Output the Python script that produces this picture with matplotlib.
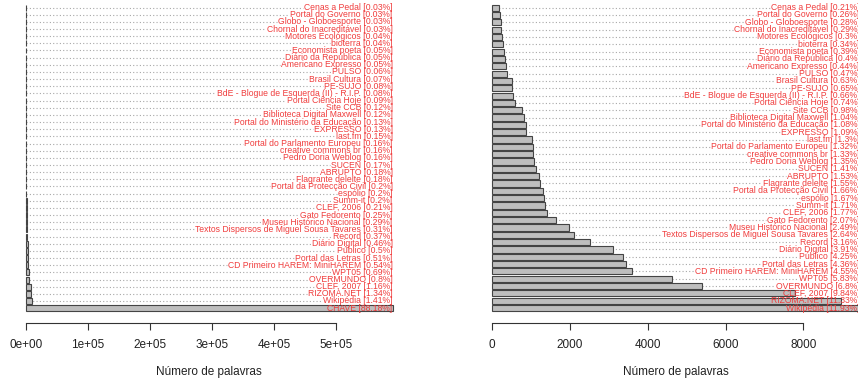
# -*- coding: utf-8 -*-

import numpy as np
import matplotlib
matplotlib.use('Agg')
from matplotlib import pyplot as plt
from matplotlib.ticker import FuncFormatter

plt.rcParams['font.family'] = ['Liberation Sans', 'DejaVu Sans']

# fontes do corpus, da mais pequena para a maior
fontes = [
    'Cenas a Pedal', 'Portal do Governo', 'Globo - Globoesporte',
    'Chornal do Inacreditável', 'Motores Ecológicos', 'bioterra',
    'Economista poeta', 'Diário da República', 'Americano Expresso',
    'PULSO', 'Brasil Cultura', 'PE-SUJO',
    'BdE - Blogue de Esquerda (II) - R.I.P.', 'Portal Ciência Hoje',
    'Site CCB', 'Biblioteca Digital Maxwell',
    'Portal do Ministério da Educação', 'EXPRESSO', 'last.fm',
    'Portal do Parlamento Europeu', 'creative commons br',
    'Pedro Doria Weblog', 'SUCEN', 'ABRUPTO', 'Flagrante delelte',
    'Portal da Protecção Civil', 'espólio', 'Summ-it', 'CLEF, 2006',
    'Gato Fedorento', 'Museu Histórico Nacional',
    'Textos Dispersos de Miguel Sousa Tavares', 'Record',
    'Diário Digital', 'Público', 'Portal das Letras',
    'CD Primeiro HAREM: MiniHAREM', 'WPT05', 'OVERMUNDO',
    'CLEF, 2007', 'RIZOMA.NET', 'Wikipédia',
]
palavras = [
    169, 206, 222, 230, 238, 269, 309, 317, 348, 372,
    499, 515, 523, 586, 776, 824, 855, 863, 1030, 1045,
    1053, 1069, 1117, 1212, 1228, 1315, 1323, 1354, 1402, 1643,
    1972, 2091, 2503, 3097, 3366, 3451, 3604, 4617, 5386, 7793,
    8973, 9449,
]
chave_nome = 'CHAVE'
chave_palavras = 591182

W, H = 858, 383
fig = plt.figure(figsize=(W / 100, H / 100), dpi=100)


def caixa(x0, x1, y0, y1):
    # pixels -> coordenadas da figura
    return [x0 / W, 1 - y1 / H, (x1 - x0) / W, (y1 - y0) / H]


def rotulo(nome, n, total):
    pct = round(100.0 * n / total, 2)
    return '%s [%s%%]' % (nome, format(pct, 'g'))


def painel(ax, nomes, valores, ticks, fmt):
    n = len(valores)
    total = sum(valores)
    ys = 0.7 + 1.2 * (n - 1 - np.arange(n))
    vmax = max(valores)
    ax.barh(ys, valores, height=1.0, color='#bebebe',
            edgecolor='#444444', linewidth=0.8, zorder=2)
    ax.set_xlim(-0.04 * vmax, 1.04 * vmax)
    alto = 1.2 * n
    ax.set_ylim(0.2 - 0.04 * (alto - 0.2), alto + 0.04 * (alto - 0.2))

    textos = []
    for nome, v, y in zip(nomes, valores, ys):
        t = ax.text(vmax, y, rotulo(nome, v, total), ha='right',
                    va='center', fontsize=6.2, color='#f03c3c', zorder=3)
        textos.append((t, v, y))

    for lado in ['top', 'right', 'left']:
        ax.spines[lado].set_visible(False)
    ax.spines['bottom'].set_bounds(ticks[0], ticks[-1])
    ax.spines['bottom'].set_color('#333333')
    ax.spines['bottom'].set_linewidth(0.8)
    ax.set_yticks([])
    ax.set_xticks(ticks)
    ax.xaxis.set_major_formatter(FuncFormatter(fmt))
    ax.tick_params(axis='x', length=5, width=0.8, color='#333333',
                   labelsize=8.5, labelcolor='#222222', pad=6)
    ax.set_xlabel('Número de palavras', fontsize=8.5, color='#222222',
                  labelpad=11)
    return textos


ax1 = fig.add_axes(caixa(11.0, 407.3, -7.7, 323.4))
ax2 = fig.add_axes(caixa(477.6, 874.3, -7.7, 323.4))

t1 = painel(ax1, fontes + [chave_nome], palavras + [chave_palavras],
            [0, 1e5, 2e5, 3e5, 4e5, 5e5], lambda v, p: '%.0e' % v)
t2 = painel(ax2, fontes, palavras,
            [0, 2000, 4000, 6000, 8000], lambda v, p: '%d' % v)

# linhas pontilhadas do zero até ao início de cada rótulo
fig.canvas.draw()
for ax, textos in [(ax1, t1), (ax2, t2)]:
    inv = ax.transData.inverted()
    for t, v, y in textos:
        bb = t.get_window_extent()
        x_ini = inv.transform((bb.x0 - 1, bb.y0))[0]
        if x_ini > v:
            ax.plot([0, x_ini], [y, y], linestyle=(0, (1, 2)),
                    color='#a8a8a8', linewidth=0.8, zorder=1)

fig.savefig('out.png', dpi=100)
